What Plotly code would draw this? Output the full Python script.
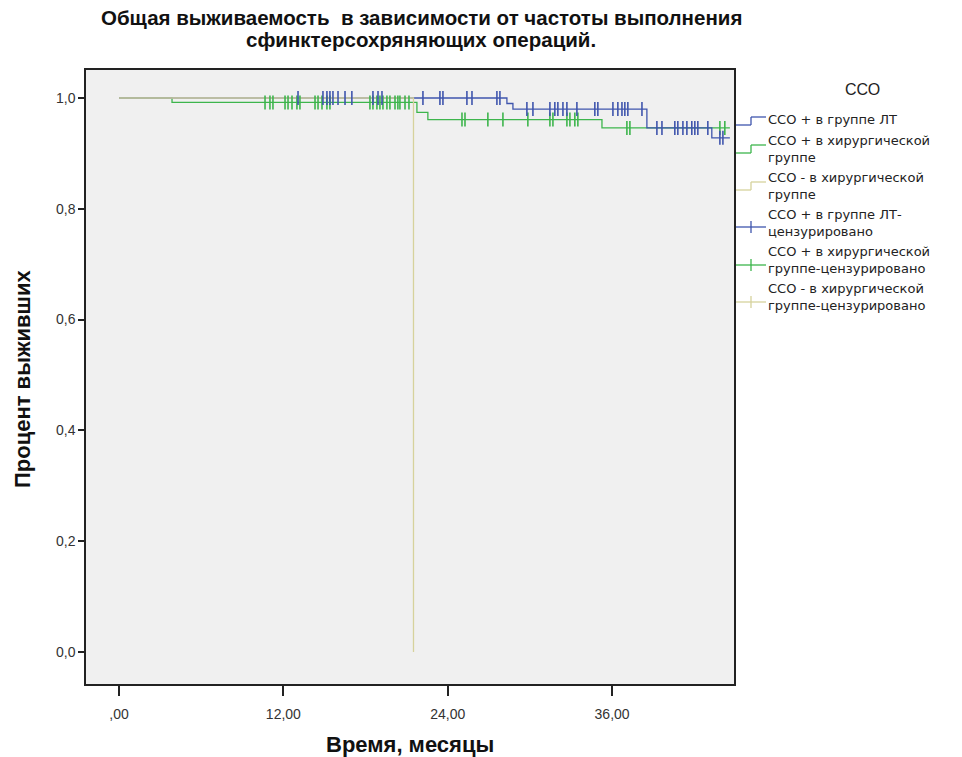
import plotly.graph_objects as go

# ---------------- data ----------------
# Kaplan-Meier step curves (time in months, survival proportion)
lt_time = [0.0, 28.32, 28.76, 38.54, 43.28, 44.6]
lt_surv = [1.0, 0.99, 0.98, 0.946, 0.928, 0.928]

surg_plus_time = [0.0, 3.87, 21.75, 22.55, 35.26, 44.6]
surg_plus_surv = [1.0, 0.992, 0.974, 0.961, 0.946, 0.946]

surg_minus_time = [0.0, 21.5]
surg_minus_surv = [1.0, 0.0]

# censored observations
lt_cens_time = [13.07, 14.89, 15.18, 15.4, 15.62, 15.99, 16.5, 17.0, 18.54, 18.91, 19.2,
                22.19, 23.43, 23.65, 25.4, 25.77, 27.59, 27.81,
                29.78, 30.22, 31.46, 31.82, 32.04, 32.41, 32.7, 33.43, 34.74, 34.96, 36.06,
                36.42, 36.72, 36.93, 37.15, 38.18,
                39.27, 39.64, 40.58, 40.8, 41.17, 41.46, 41.82, 42.04, 42.26, 42.99,
                43.87, 44.09]
lt_cens_surv = [1.0] * 18 + [0.98] * 16 + [0.946] * 10 + [0.928] * 2

surg_plus_cens_time = [10.66, 11.02, 11.24, 12.12, 12.34, 12.63, 12.99, 13.21, 14.31, 14.53, 14.82,
                       15.18, 15.4, 18.32, 18.54, 18.83, 19.05, 19.27, 19.56, 19.78, 20.15, 20.36,
                       20.51, 20.88, 21.17,
                       25.04, 25.26, 26.93, 28.03, 29.85, 31.46, 31.68, 32.7, 32.92, 33.28, 33.5,
                       37.08, 37.3, 43.87, 44.23]
surg_plus_cens_surv = [0.992] * 25 + [0.961] * 11 + [0.946] * 4

surg_minus_cens_time = []
surg_minus_cens_surv = []

x_tickvals = [0, 12, 24, 36]
x_ticktext = [",00", "12,00", "24,00", "36,00"]
y_tickvals = [0.0, 0.2, 0.4, 0.6, 0.8, 1.0]
y_ticktext = ["0,0", "0,2", "0,4", "0,6", "0,8", "1,0"]

legend_title = "ССО"
legend_labels = [
    "ССО + в группе ЛТ",
    "ССО + в хирургической<br>группе",
    "ССО - в хирургической<br>группе",
    "ССО + в группе ЛТ-<br>цензурировано",
    "ССО + в хирургической<br>группе-цензурировано",
    "ССО - в хирургической<br>группе-цензурировано",
]

title_lines = ["Общая выживаемость  в зависимости от частоты выполнения",
               "сфинктерсохряняющих операций."]
x_title = "Время, месяцы"
y_title = "Процент выживших"

# ---------------- style ----------------
BLUE = "#3f55ad"
GREEN = "#3db54c"
BEIGE = "#d6d29c"
FONT = "Liberation Sans, Arial, sans-serif"
LFONT = "DejaVu Sans, sans-serif"

W, H = 962, 757
L, R, T, B = 86, 734, 70, 684  # plot area in pixels


def px(x):
    return (x - L) / (R - L)


def py(y):
    return (B - y) / (B - T)


fig = go.Figure()

fig.add_trace(go.Scatter(x=surg_plus_time, y=surg_plus_surv, mode="lines", line_shape="hv",
                         line=dict(color=GREEN, width=1.3), showlegend=False, hoverinfo="skip"))
fig.add_trace(go.Scatter(x=lt_time, y=lt_surv, mode="lines", line_shape="hv",
                         line=dict(color=BLUE, width=1.3), showlegend=False, hoverinfo="skip"))
fig.add_trace(go.Scatter(x=surg_minus_time, y=surg_minus_surv, mode="lines", line_shape="hv",
                         line=dict(color=BEIGE, width=1.3), showlegend=False, hoverinfo="skip"))

for xs, ys, col in [(surg_plus_cens_time, surg_plus_cens_surv, GREEN),
                    (lt_cens_time, lt_cens_surv, BLUE),
                    (surg_minus_cens_time, surg_minus_cens_surv, BEIGE)]:
    fig.add_trace(go.Scatter(x=xs, y=ys, mode="markers",
                             marker=dict(symbol="line-ns", size=10,
                                         line=dict(color=col, width=1.6)),
                             showlegend=False, hoverinfo="skip"))

# ---------------- custom legend (SPSS style) ----------------
shapes = []
annotations = []
annotations.append(dict(text=legend_title, x=px(862), y=py(89), xref="paper", yref="paper",
                        showarrow=False, xanchor="center", yanchor="middle",
                        font=dict(family=FONT, size=16, color="#222")))

text_y = [119, 149, 186, 222.5, 260, 297]
sym_y = [125, 153, 190, 227, 265, 302]
colors = [BLUE, GREEN, BEIGE, BLUE, GREEN, BEIGE]
for i, lab in enumerate(legend_labels):
    c = colors[i]
    sy = sym_y[i]
    if i < 3:
        pts = [(736, sy, 751, sy), (751, sy, 751, sy - 8), (751, sy - 8, 766, sy - 8)]
    else:
        pts = [(736, sy, 766, sy), (751, sy - 6, 751, sy + 6)]
    for (x0, y0, x1, y1) in pts:
        shapes.append(dict(type="line", xref="paper", yref="paper",
                           x0=px(x0), y0=py(y0), x1=px(x1), y1=py(y1),
                           line=dict(color=c, width=1.3)))
    annotations.append(dict(text=lab, x=px(766), y=py(text_y[i]), xref="paper",
                            yref="paper", showarrow=False, xanchor="left",
                            yanchor="middle", align="left",
                            font=dict(family=LFONT, size=13, color="#222")))

# title (two centred lines)
for txt, yy in zip(title_lines, [18, 40]):
    annotations.append(dict(text="<b>" + txt + "</b>", x=px(421), y=py(yy), xref="paper",
                            yref="paper", showarrow=False, xanchor="center", yanchor="middle",
                            font=dict(family=FONT, size=20.5, color="#111")))

# axis titles
annotations.append(dict(text="<b>" + x_title + "</b>", x=px(410), y=py(744), xref="paper",
                        yref="paper", showarrow=False, xanchor="center", yanchor="middle",
                        font=dict(family=FONT, size=22, color="#111")))
annotations.append(dict(text="<b>" + y_title + "</b>", x=px(22), y=py(379), xref="paper",
                        yref="paper", showarrow=False, xanchor="center", yanchor="middle",
                        textangle=-90, font=dict(family=FONT, size=22, color="#111")))

fig.update_layout(
    width=W, height=H,
    margin=dict(l=L, r=W - R, t=T, b=H - B),
    paper_bgcolor="white",
    plot_bgcolor="#f0f0f0",
    shapes=shapes,
    annotations=annotations,
    showlegend=False,
)

fig.update_xaxes(range=[-2.41, 44.9], tickvals=x_tickvals, ticktext=x_ticktext,
                 showgrid=False, zeroline=False, showline=True, linecolor="#222",
                 linewidth=1.5, mirror=True, ticks="outside", ticklen=10, tickcolor="#222",
                 tickwidth=1.5, ticklabelstandoff=6,
                 tickfont=dict(family=FONT, size=14, color="#333"))
fig.update_yaxes(range=[-0.0578, 1.0505], tickvals=y_tickvals, ticktext=y_ticktext,
                 showgrid=False, zeroline=False, showline=True, linecolor="#222",
                 linewidth=1.5, mirror=True, ticks="outside", ticklen=6, tickcolor="#222",
                 tickwidth=1.5, tickfont=dict(family=FONT, size=14, color="#333"))

fig.write_html("out.html", config={"displayModeBar": False},
               post_script="document.body.style.margin='0px';")
